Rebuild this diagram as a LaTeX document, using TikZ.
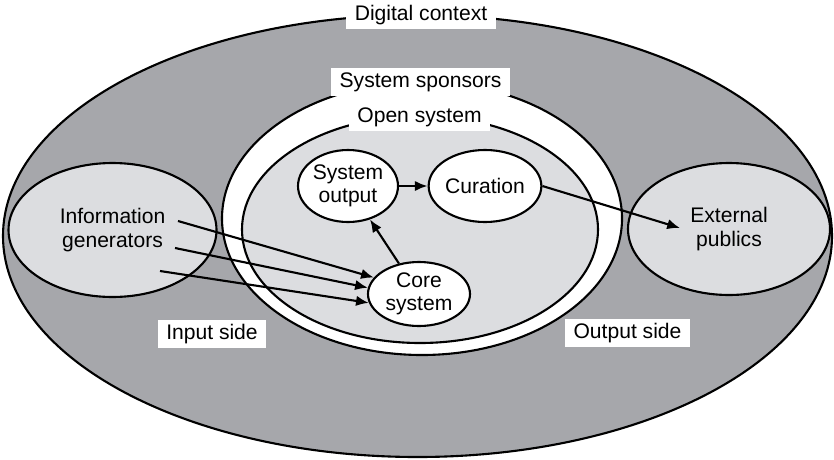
\documentclass[tikz,border=0pt]{standalone}
\usepackage{fontspec}
\setmainfont{Liberation Sans}
\usetikzlibrary{shapes.geometric,arrows.meta}
\definecolor{donkergrijs}{RGB}{166,167,171}
\definecolor{lichtgrijs}{RGB}{220,221,224}
\tikzset{
    blob/.style={draw, ellipse, inner sep=0pt, align=center},
    tag/.style={fill=white, inner xsep=6pt, inner ysep=0pt, minimum height=.72cm},
}
\begin{document}
\begin{tikzpicture}[line width=1.5pt, >={Latex[length=3.2mm,width=2.6mm]}, font=\fontsize{15}{16.5}\selectfont]
    \useasboundingbox (0,0) rectangle (20.85,11.475);

    % context rings
    \draw[fill=donkergrijs] (10.4375,5.575) ellipse (10.3625 and 5.525);
    \draw[fill=white] (10.55,6.0125) ellipse (5 and 3.4125);
    \draw[fill=lichtgrijs] (10.5,5.7375) ellipse (4.45 and 2.8375);

    % sides
    \node[blob, fill=lichtgrijs, minimum width=5.2cm, minimum height=3.35cm] (info) at (2.8125,5.725) {Information\\generators};
    \node[blob, fill=lichtgrijs, minimum width=5.05cm, minimum height=3.3cm] (publics) at (18.225,5.75) {External\\publics};

    % inside the open system
    \node[blob, fill=white, minimum width=2.5cm, minimum height=1.8cm] (sysout) at (8.7,6.825) {System\\output};
    \node[blob, fill=white, minimum width=2.5cm, minimum height=1.8cm] (curation) at (12.125,6.825) {Curation};
    \node[blob, fill=white, minimum width=2.55cm, minimum height=1.6cm] (core) at (10.475,4.125) {Core\\system};

    \coordinate (ig1) at (4.45,5.95);
    \coordinate (ig2) at (4.375,5.275);
    \coordinate (ig3) at (4.0,4.7);
    \coordinate (pub) at (17,5.775);

    \draw[->] (ig1) -- (core.160);
    \draw[->] (ig2) -- (core.173);
    \draw[->] (ig3) -- (core.190);
    \draw[->] (core) -- (sysout);
    \draw[->] (sysout) -- (curation);
    \draw[->] (curation.east) -- (pub);

    % labels
    \node[tag] (context) at (10.525,11.1) {Digital context};
    \node[tag] (sponsors) at (10.5125,9.425) {System sponsors};
    \node[tag] (open) at (10.4875,8.55) {Open system};
    \node[tag] (input) at (5.3,3.125) {Input side};
    \node[tag] (output) at (15.6875,3.15) {Output side};
\end{tikzpicture}
\end{document}
